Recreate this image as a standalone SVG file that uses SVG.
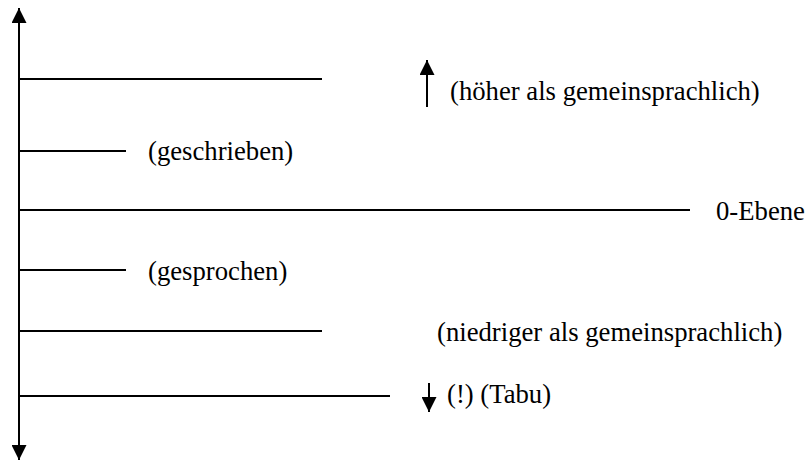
<svg xmlns="http://www.w3.org/2000/svg" width="807" height="461" viewBox="0 0 807 461">
<style>
.ln{stroke:#000;stroke-width:2;fill:none}
.t{font-family:"Liberation Serif","Times New Roman",serif;font-size:26.7px;fill:#000}
</style>
<defs>
<marker id="ah" markerWidth="15" markerHeight="15" refX="15" refY="7.5" orient="auto" markerUnits="userSpaceOnUse" viewBox="0 0 15 15"><path d="M0,0 L15,7.5 L0,15 Z" fill="#000"/></marker>
</defs>
<g id="connectors">
<line class="ln" x1="19" y1="450" x2="19" y2="8" marker-end="url(#ah)"/>
<line class="ln" x1="19" y1="20" x2="19" y2="460" marker-end="url(#ah)"/>
<line class="ln" x1="427" y1="107" x2="427" y2="60" marker-end="url(#ah)"/>
<line class="ln" x1="429" y1="383" x2="429" y2="412" marker-end="url(#ah)"/>
</g>
<g id="level-hoeher"><line class="ln" x1="19" y1="79" x2="322" y2="79"/><text class="t" x="450" y="100">(höher als gemeinsprachlich)</text></g>
<g id="level-geschrieben"><line class="ln" x1="19" y1="151" x2="126" y2="151"/><text class="t" x="148" y="160">(geschrieben)</text></g>
<g id="level-0"><line class="ln" x1="19" y1="210" x2="690" y2="210"/><text class="t" x="716" y="220">0-Ebene</text></g>
<g id="level-gesprochen"><line class="ln" x1="19" y1="270" x2="126" y2="270"/><text class="t" x="148" y="280">(gesprochen)</text></g>
<g id="level-niedriger"><line class="ln" x1="19" y1="331" x2="322" y2="331"/><text class="t" x="437" y="341">(niedriger als gemeinsprachlich)</text></g>
<g id="level-tabu"><line class="ln" x1="19" y1="396" x2="390" y2="396"/><text class="t" x="447" y="403">(!) (Tabu)</text></g>
</svg>
